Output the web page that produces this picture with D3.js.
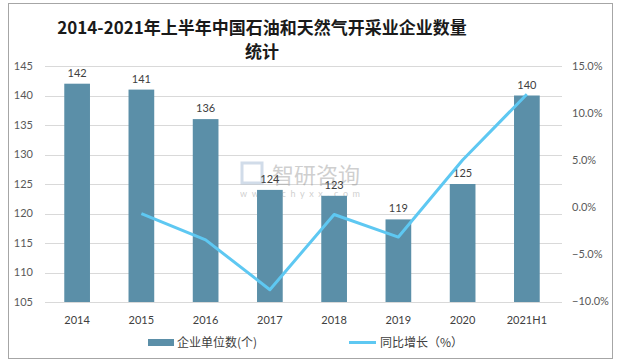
<!DOCTYPE html>
<html>
<head>
<meta charset="utf-8">
<script src="https://cdn.jsdelivr.net/npm/d3@7"></script>
<style>
  body { margin: 0; background: #fff; }
  svg text { font-family: Lato, "Noto Sans CJK SC", sans-serif; }
</style>
</head>
<body>
<div class="chart-container"></div>
<script>
const categories = ["2014", "2015", "2016", "2017", "2018", "2019", "2020", "2021H1"];
const companies = [142, 141, 136, 124, 123, 119, 125, 140];
const growth = [null, -0.7, -3.5, -8.8, -0.8, -3.2, 5.0, 12.0];
const leftTicks = [105, 110, 115, 120, 125, 130, 135, 140, 145];
const rightTicks = [-10, -5, 0, 5, 10, 15];

document.addEventListener('DOMContentLoaded', function() {
    const width = 620, height = 362;

    const svg = d3.select(".chart-container")
        .append("svg")
        .attr("width", width)
        .attr("height", height);

    // outer frame
    svg.append("rect")
        .attr("x", 8.5).attr("y", 3.5)
        .attr("width", 604).attr("height", 355)
        .attr("fill", "#fff")
        .attr("stroke", "#a6a6a6");

    // title
    svg.append("g")
        .attr("font-weight", "bold")
        .attr("font-size", 17)
        .attr("fill", "#1a1a1a")
        .attr("text-anchor", "middle")
        .selectAll("text")
        .data(["2014-2021年上半年中国石油和天然气开采业企业数量", "统计"])
        .join("text")
        .attr("x", 262)
        .attr("y", (d, i) => 34 + i * 24)
        .style("font-family", "'Noto Sans CJK SC', sans-serif")
        .text(d => d);

    const x = d3.scaleBand()
        .domain(categories)
        .range([45, 559])
        .paddingInner(0.6)
        .paddingOuter(0.3);

    const yL = d3.scaleLinear().domain([105, 145]).range([302, 66]);
    const yR = d3.scaleLinear().domain([-10, 15]).range([301, 66]);

    // gridlines
    svg.append("g")
        .selectAll("line")
        .data(leftTicks)
        .join("line")
        .attr("x1", 45).attr("x2", 562)
        .attr("y1", d => Math.round(yL(d)) + 0.5)
        .attr("y2", d => Math.round(yL(d)) + 0.5)
        .attr("stroke", "#d9d9d9");

    // watermark
    const wm = svg.append("g").attr("opacity", 0.4);
    wm.append("rect").attr("x", 242).attr("y", 163).attr("width", 20).attr("height", 20)
        .attr("fill", "none").attr("stroke", "#8fa9c9").attr("stroke-width", 3);
    wm.append("text").attr("x", 272).attr("y", 183)
        .attr("font-size", 22).attr("fill", "#888")
        .style("font-family", "'Noto Sans CJK SC', sans-serif")
        .text("智研咨询");
    wm.append("text").attr("x", 240).attr("y", 197)
        .attr("font-size", 9).attr("fill", "#888").attr("letter-spacing", 4.6)
        .text("www.chyxx.com");

    // bars
    svg.append("g")
        .attr("fill", "#5b8fa8")
        .selectAll("rect")
        .data(companies)
        .join("rect")
        .attr("x", (d, i) => x(categories[i]))
        .attr("y", d => yL(d))
        .attr("width", x.bandwidth())
        .attr("height", d => yL(105) - yL(d));

    // bar labels
    svg.append("g")
        .attr("font-size", 11)
        .attr("fill", "#404040")
        .attr("text-anchor", "middle")
        .selectAll("text")
        .data(companies)
        .join("text")
        .attr("x", (d, i) => x(categories[i]) + x.bandwidth() / 2)
        .attr("y", d => yL(d) - 7)
        .text(d => d);

    // growth line
    const line = d3.line()
        .defined(d => d[1] != null)
        .x(d => x(d[0]) + x.bandwidth() / 2)
        .y(d => yR(d[1]));

    svg.append("path")
        .datum(categories.map((c, i) => [c, growth[i]]))
        .attr("fill", "none")
        .attr("stroke", "#5ec8f2")
        .attr("stroke-width", 3)
        .attr("stroke-linejoin", "round")
        .attr("d", line);

    // left axis labels
    svg.append("g")
        .attr("font-size", 11)
        .attr("fill", "#595959")
        .attr("text-anchor", "end")
        .selectAll("text")
        .data(leftTicks)
        .join("text")
        .attr("x", 33)
        .attr("y", d => yL(d))
        .attr("dy", "0.35em")
        .text(d => d);

    // right axis labels
    svg.append("g")
        .attr("font-size", 11)
        .attr("fill", "#595959")
        .selectAll("text")
        .data(rightTicks)
        .join("text")
        .attr("x", 572)
        .attr("y", d => yR(d))
        .attr("dy", "0.35em")
        .text(d => d3.format(".1f")(d) + "%");

    // x axis labels
    svg.append("g")
        .attr("font-size", 11)
        .attr("fill", "#404040")
        .attr("text-anchor", "middle")
        .selectAll("text")
        .data(categories)
        .join("text")
        .attr("x", d => x(d) + x.bandwidth() / 2)
        .attr("y", 324)
        .text(d => d);

    // legend
    const legend = svg.append("g").attr("font-size", 12).attr("fill", "#404040");
    legend.append("rect").attr("x", 148).attr("y", 339).attr("width", 26).attr("height", 7).attr("fill", "#5b8fa8");
    legend.append("text").attr("x", 177).attr("y", 347).text("企业单位数(个)")
        .style("font-family", "'Noto Sans CJK SC', sans-serif");
    legend.append("line").attr("x1", 349).attr("x2", 376).attr("y1", 342.5).attr("y2", 342.5)
        .attr("stroke", "#5ec8f2").attr("stroke-width", 3);
    legend.append("text").attr("x", 380).attr("y", 347).text("同比增长（%）")
        .style("font-family", "'Noto Sans CJK SC', sans-serif");
});
</script>
</body>
</html>
